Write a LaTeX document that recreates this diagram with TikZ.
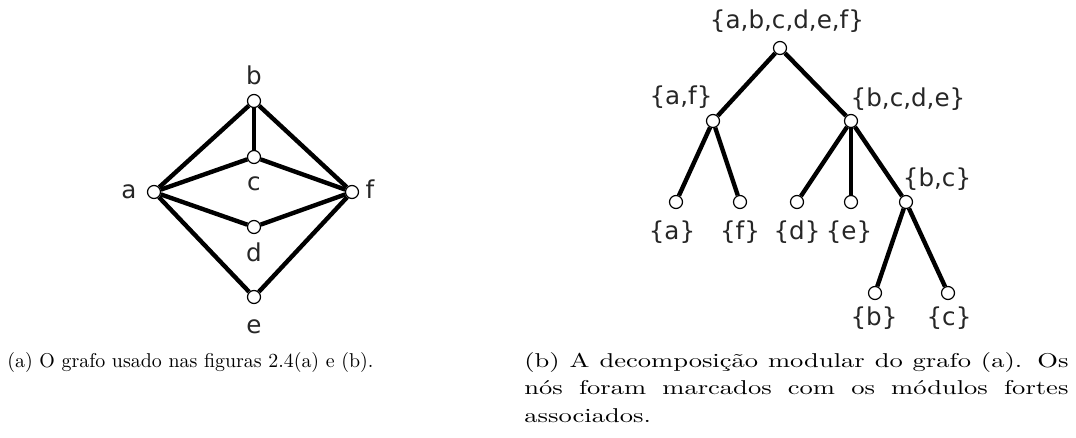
\documentclass[tikz,border=0pt]{standalone}
\usepackage{fontspec}
\newfontfamily\lblfont{DejaVu Sans}
\usepackage{graphicx}
\usepackage{tikz}
\usetikzlibrary{positioning}
\tikzstyle{vert} = [circle, draw=black, fill=white, line width=0.6pt, minimum size=6.5pt, inner sep=0pt]
\tikzstyle{lbl} = [anchor=base, inner sep=0pt, font=\lblfont\fontsize{12.3}{14}\selectfont, text=black!85]
\tikzstyle{aresta} = [line width=2.2pt]
\tikzstyle{legenda} = [anchor=base west, inner sep=0pt, font=\fontsize{10}{13.75}\selectfont]

\begin{document}
\begin{tikzpicture}[x=0.5pt, y=-0.5pt]
\useasboundingbox (0,0) rectangle (1076,438);

% Grafo (a)
\node[vert] (a) at (154,192) {};
\node[vert] (b) at (254,101) {};
\node[vert] (c) at (254,157) {};
\node[vert] (d) at (254,227) {};
\node[vert] (e) at (254,297) {};
\node[vert] (f) at (352,192) {};
\node[lbl] (la) at (129,199) {a};
\node[lbl] (lb) at (254,85) {b};
\node[lbl] (lc) at (254,191) {c};
\node[lbl] (ld) at (254,262) {d};
\node[lbl] (le) at (254,333) {e};
\node[lbl] (lf) at (370,199) {f};
\draw[aresta] (a) -- (b);
\draw[aresta] (b) -- (f);
\draw[aresta] (b) -- (c);
\draw[aresta] (a) -- (c);
\draw[aresta] (c) -- (f);
\draw[aresta] (a) -- (d);
\draw[aresta] (d) -- (f);
\draw[aresta] (a) -- (e);
\draw[aresta] (e) -- (f);

% Arvore de decomposicao (b)
\node[vert] (raiz) at (780,48) {};
\node[vert] (af) at (713,121) {};
\node[vert] (bcde) at (851,121) {};
\node[vert] (ma) at (676,202) {};
\node[vert] (mf) at (740,202) {};
\node[vert] (md) at (797,202) {};
\node[vert] (me) at (851,202) {};
\node[vert] (bc) at (906,202) {};
\node[vert] (mb) at (875,293) {};
\node[vert] (mc) at (948,293) {};
\node[lbl] (lraiz) at (787,29) {\{a,b,c,d,e,f\}};
\node[lbl] (laf) at (681,105) {\{a,f\}};
\node[lbl] (lbcde) at (908,107) {\{b,c,d,e\}};
\node[lbl] (lma) at (672,240) {\{a\}};
\node[lbl] (lmf) at (740,240) {\{f\}};
\node[lbl] (lmd) at (797,240) {\{d\}};
\node[lbl] (lme) at (849,240) {\{e\}};
\node[lbl] (lbc) at (937,187) {\{b,c\}};
\node[lbl] (lmb) at (874,325) {\{b\}};
\node[lbl] (lmc) at (949,325) {\{c\}};
\draw[aresta] (raiz) -- (af);
\draw[aresta] (raiz) -- (bcde);
\draw[aresta] (af) -- (ma);
\draw[aresta] (af) -- (mf);
\draw[aresta] (bcde) -- (md);
\draw[aresta] (bcde) -- (me);
\draw[aresta] (bcde) -- (bc);
\draw[aresta] (bc) -- (mb);
\draw[aresta] (bc) -- (mc);

% Legendas
\node[legenda] (capa) at (7,367) {\resizebox{183pt}{\height}{(a) O grafo usado nas figuras 2.4(a) e (b).}};
\node[legenda] (capb) at (524,367) {\scalebox{1.327}[1]{\parbox[t]{205pt}{(b) A decomposição modular do grafo (a). Os\linebreak nós foram marcados com os módulos fortes\linebreak associados.}}};
\end{tikzpicture}
\end{document}
